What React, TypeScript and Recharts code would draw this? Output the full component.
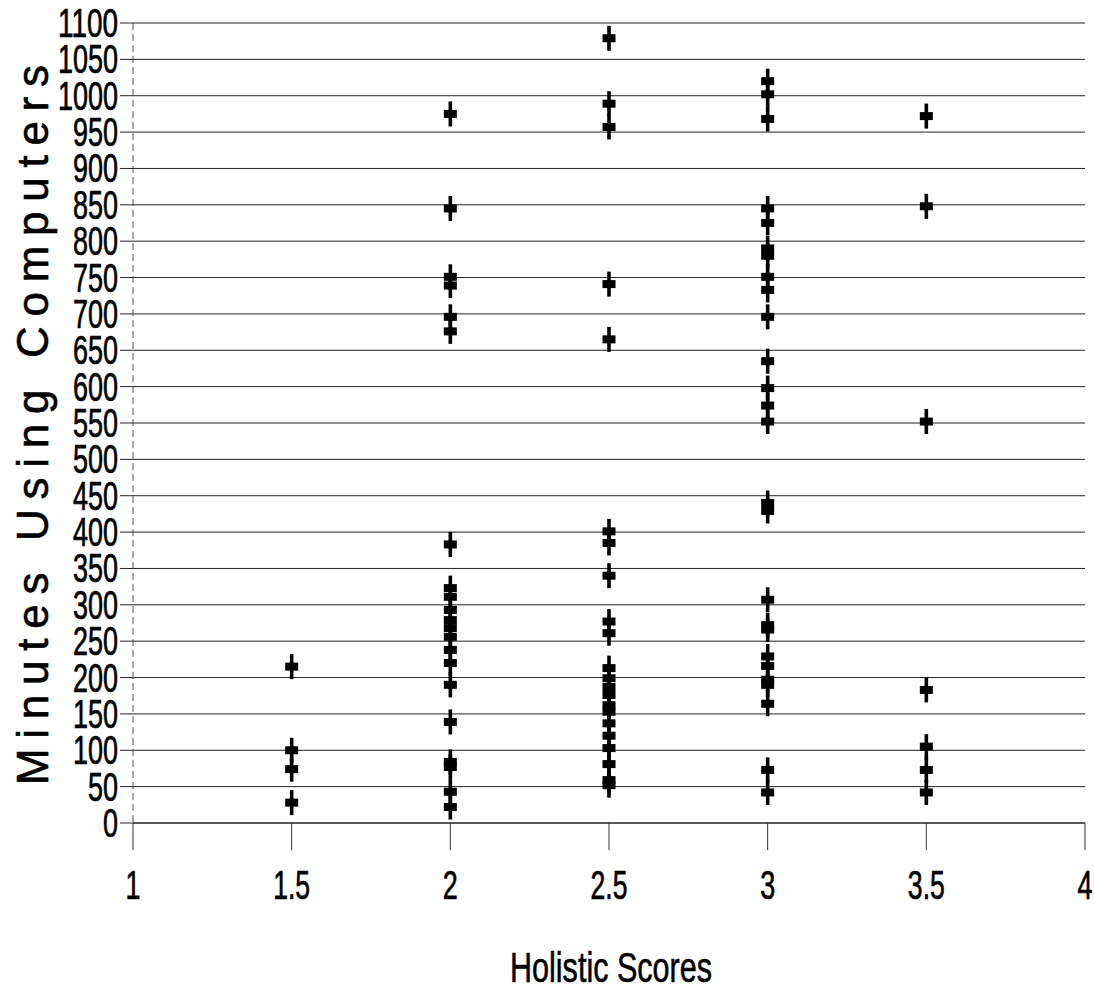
import React from 'react';
import { ScatterChart, Scatter, XAxis, YAxis, CartesianGrid, Label } from 'recharts';

// minutes
const score15 = [215, 100, 74, 28];
const score20 = [975, 845, 751, 739, 696, 676, 383, 323, 311, 293, 279, 268, 256, 238, 220, 190, 139, 84, 77, 43, 22];
const score25 = [1079, 989, 957, 741, 665, 401, 385, 340, 277, 261, 213, 199, 187, 176, 162, 153, 137, 120, 103, 81, 59, 52];
const score30 = [1020, 1002, 968, 845, 825, 790, 780, 751, 733, 696, 635, 598, 574, 552, 440, 429, 307, 272, 266, 229, 216, 197, 190, 164, 73, 42];
const score35 = [972, 848, 552, 183, 105, 73, 42];

const xTicks = [1, 1.5, 2, 2.5, 3, 3.5, 4];
const yTicks = [0, 50, 100, 150, 200, 250, 300, 350, 400, 450, 500, 550, 600, 650, 700, 750, 800, 850, 900, 950, 1000, 1050, 1100];

const columns: [number, number[]][] = [
  [1.5, score15],
  [2, score20],
  [2.5, score25],
  [3, score30],
  [3.5, score35],
];
const data = columns.flatMap(([x, ys]) => ys.map((y) => ({ x, y })));

const NARROW = "'Liberation Sans', Arial, sans-serif";

const NarrowTick = (props: any) => {
  const { x, y, payload, anchor, dy } = props;
  const label = String(payload.value);
  const len = [...label].reduce((s, c) => s + (c === '.' ? 7 : 15), 0);
  return (
    <text
      x={x}
      y={y + dy}
      textAnchor={anchor}
      textLength={len}
      lengthAdjust="spacingAndGlyphs"
      fontFamily={NARROW}
      fontSize={40}
      fill="#000"
      stroke="#000"
      strokeWidth={0.7}
    >
      {label}
    </text>
  );
};

const PlusMark = (props: any) => {
  const { cx, cy } = props;
  return (
    <g fill="#000">
      <rect x={cx - 1.8} y={cy - 12.5} width={3.6} height={25} />
      <rect x={cx - 6.5} y={cy - 4} width={13} height={8} />
    </g>
  );
};

export default function App() {
  return (
    <div style={{ position: 'absolute', left: 0, top: 0, background: '#fff' }}>
      <ScatterChart width={1095} height={1002} margin={{ top: 23, right: 10, bottom: 0, left: 0 }}>
        <CartesianGrid vertical={false} stroke="#222" strokeWidth={1} />
        <XAxis
          type="number"
          dataKey="x"
          domain={[1, 4]}
          ticks={xTicks}
          interval={0}
          height={179}
          tickSize={27}
          tickMargin={0}
          axisLine={{ stroke: '#222' }}
          tickLine={{ stroke: '#333' }}
          tick={(p: any) => <NarrowTick {...p} anchor="middle" dy={49} />}
        >
          <Label
            content={() => (
              <text
                x={611}
                y={982}
                textAnchor="middle"
                textLength={202}
                lengthAdjust="spacingAndGlyphs"
                fontFamily={NARROW}
                fontSize={42}
                fill="#000"
                stroke="#000"
                strokeWidth={0.6}
              >
                Holistic Scores
              </text>
            )}
          />
        </XAxis>
        <YAxis
          type="number"
          dataKey="y"
          domain={[0, 1100]}
          ticks={yTicks}
          interval={0}
          width={133}
          tickSize={13}
          tickMargin={2}
          axisLine={{ stroke: '#555', strokeDasharray: '7 4' }}
          tickLine={{ stroke: '#222' }}
          tick={(p: any) => <NarrowTick {...p} anchor="end" dy={14} />}
        >
          <Label
            content={() => (
              <text
                transform="translate(48, 425) rotate(-90)"
                textAnchor="middle"
                textLength={720}
                lengthAdjust="spacing"
                fontFamily="'Liberation Sans', Arial, sans-serif"
                fontSize={44}
                fill="#000"
                stroke="#000"
                strokeWidth={0.6}
              >
                Minutes Using Computers
              </text>
            )}
          />
        </YAxis>
        <Scatter data={data} shape={<PlusMark />} isAnimationActive={false} />
      </ScatterChart>
    </div>
  );
}
